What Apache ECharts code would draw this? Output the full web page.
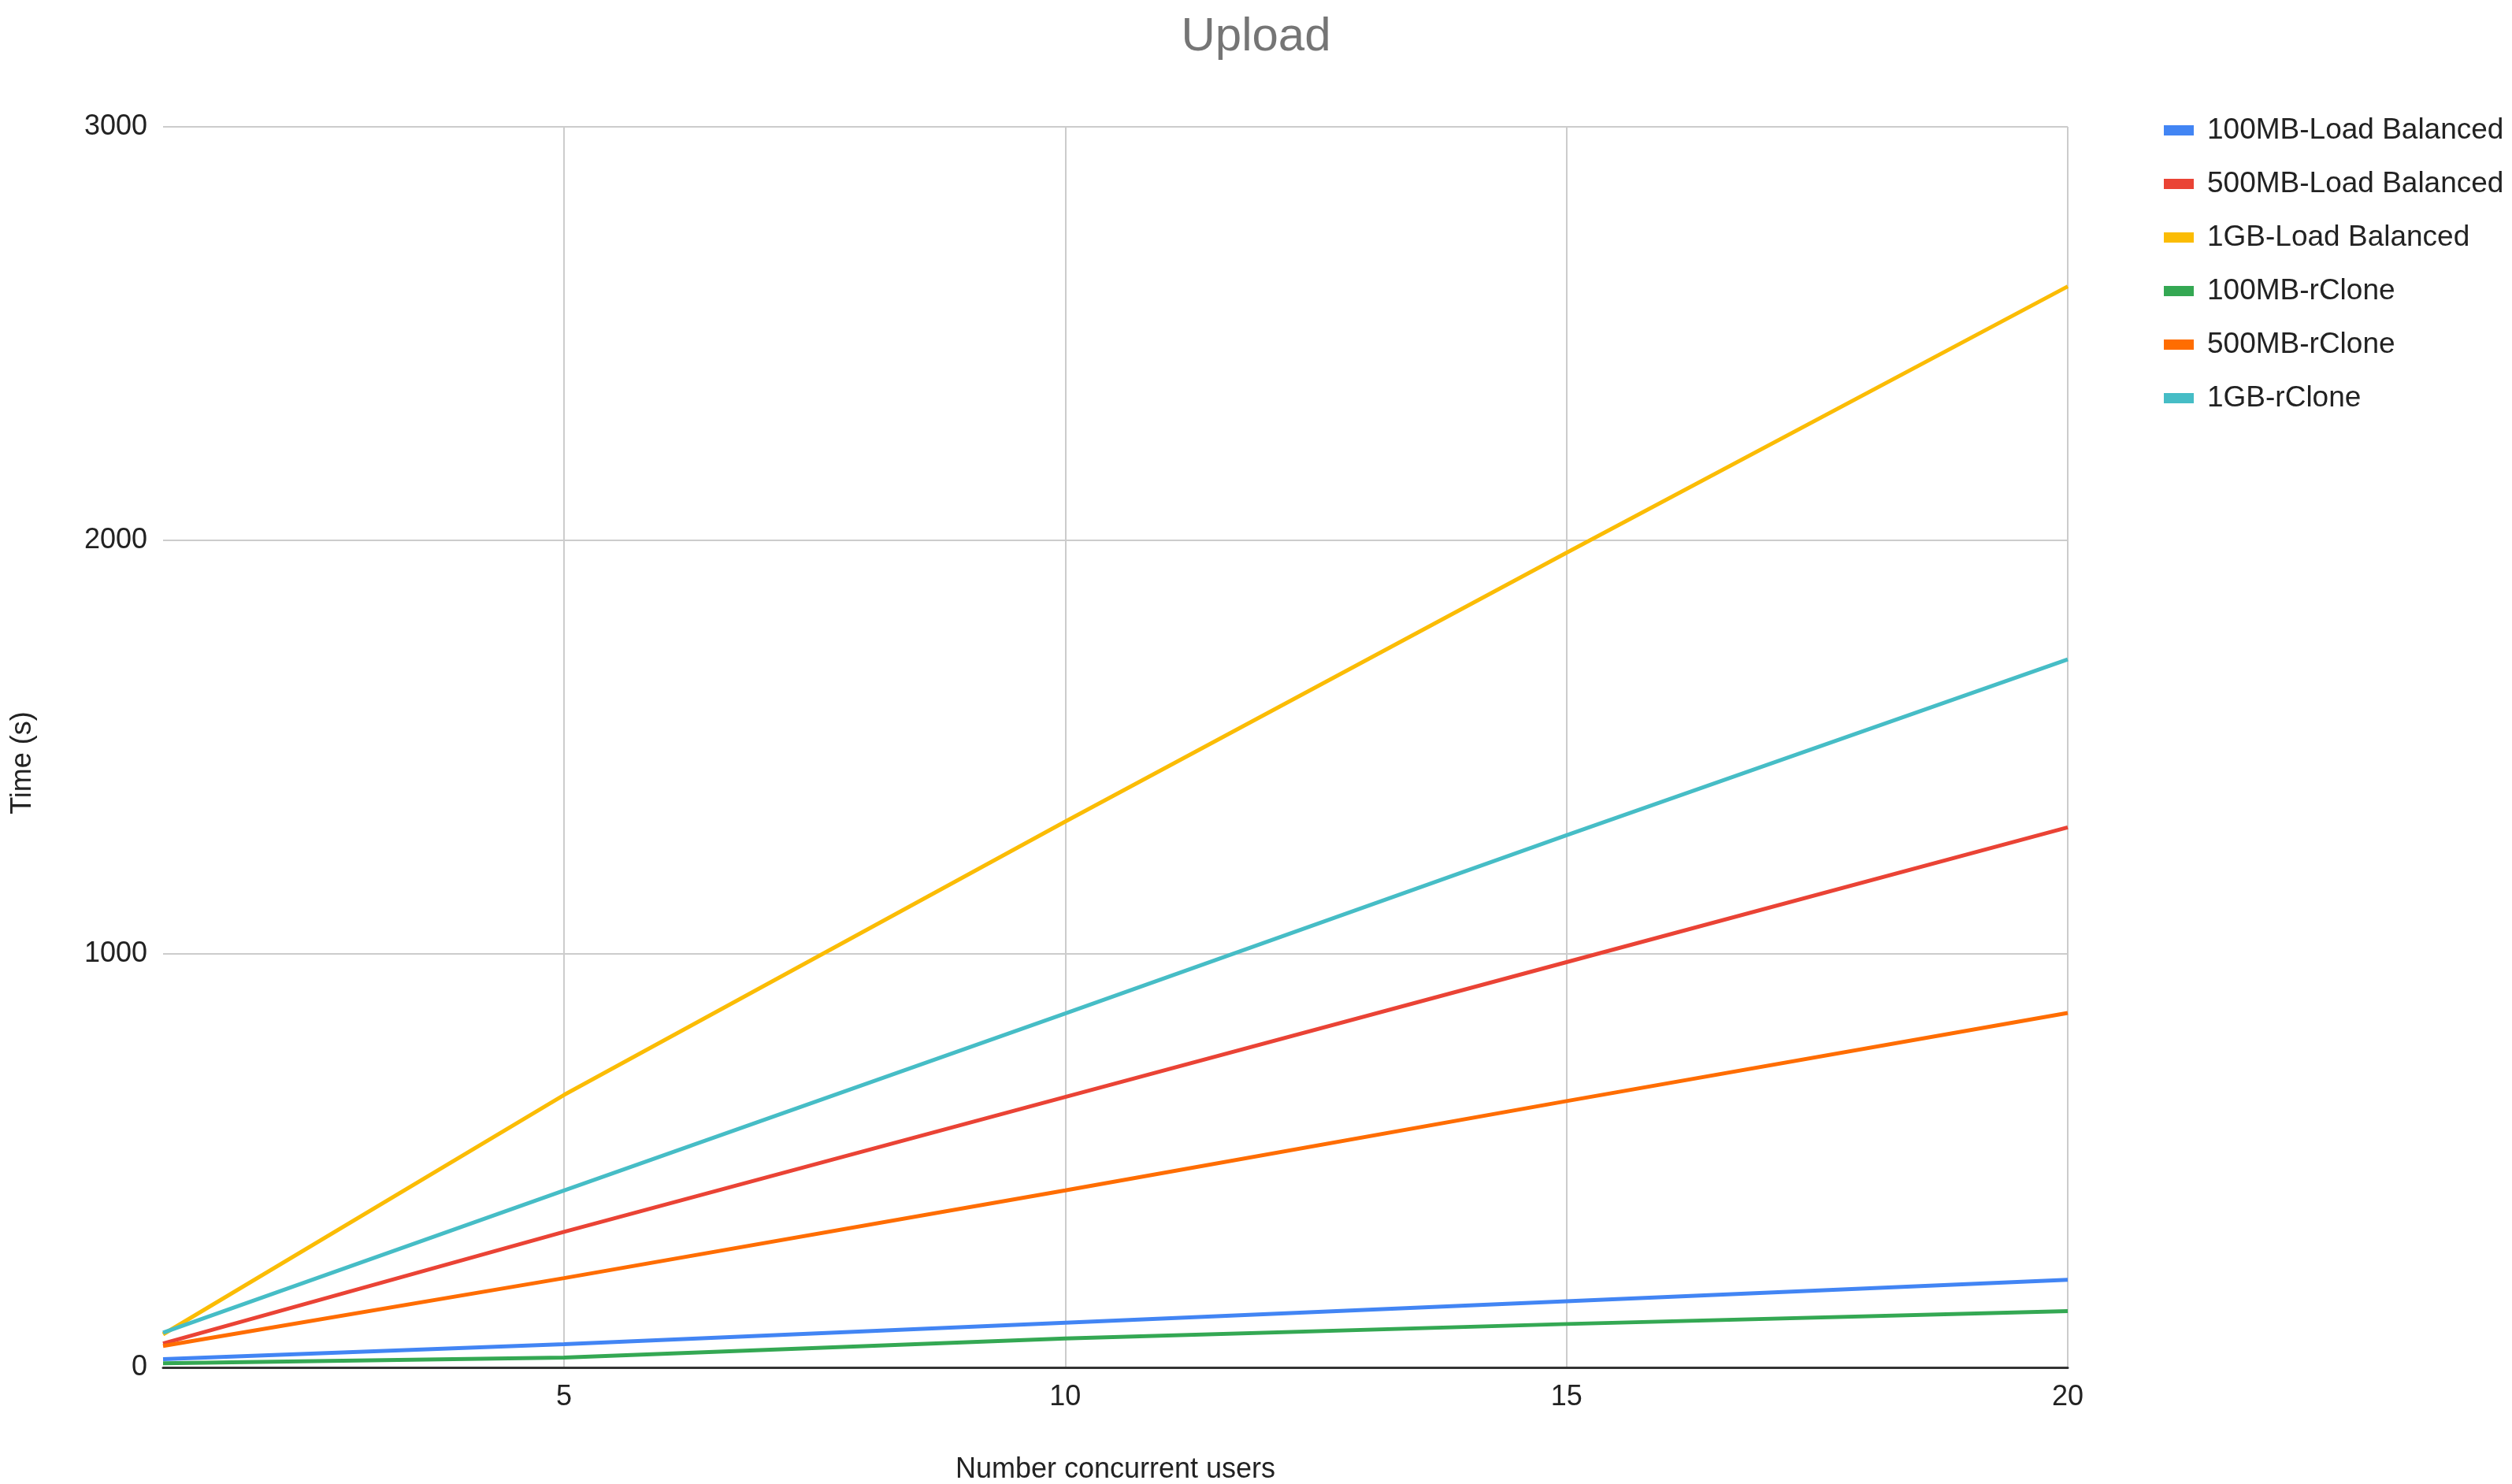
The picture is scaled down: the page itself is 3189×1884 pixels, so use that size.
<!DOCTYPE html>
<html>
<head>
<meta charset="utf-8">
<title>Upload</title>
<script src="https://cdn.jsdelivr.net/npm/echarts@6/dist/echarts.min.js"></script>
<style>
  html, body { margin: 0; padding: 0; background: #fff; }
  #chart { width: 3189px; height: 1884px; }
</style>
</head>
<body>
<div id="chart"></div>
<script>
// Upload times (s) by number of concurrent users
const users = [1, 5, 10, 15, 20];
const xTicks = [5, 10, 15, 20];

const seriesNames = [
    '100MB-Load Balanced',
    '500MB-Load Balanced',
    '1GB-Load Balanced',
    '100MB-rClone',
    '500MB-rClone',
    '1GB-rClone'
];

const lb100 = [20, 56, 108, 160, 212];
const lb500 = [58, 328, 654, 980, 1306];
const lb1g = [80, 659, 1320, 1970, 2614];
const rc100 = [10, 24, 70, 105, 136];
const rc500 = [52, 216, 428, 644, 857];
const rc1g = [84, 428, 856, 1287, 1712];

const colors = ['#4285F4', '#EA4335', '#FBBC04', '#34A853', '#FF6D01', '#46BDC6'];
const values = [lb100, lb500, lb1g, rc100, rc500, rc1g];

const font = '"Liberation Sans", Arial, sans-serif';

function toPoints(ys) {
    return users.map((x, i) => [x, ys[i]]);
}

const chart = echarts.init(document.getElementById('chart'));

chart.setOption({
    animation: false,
    backgroundColor: '#fff',
    title: {
        text: 'Upload',
        left: 'center',
        top: 12,
        textStyle: { fontFamily: font, fontSize: 60, fontWeight: 'normal', color: '#757575' }
    },
    legend: {
        orient: 'vertical',
        left: 2742,
        top: 142,
        icon: 'rect',
        itemWidth: 38,
        itemHeight: 13,
        itemGap: 31,
        textStyle: { fontFamily: font, fontSize: 37, color: '#222', padding: [0, 0, 0, 12] },
        data: seriesNames
    },
    grid: { left: 207, right: 564, top: 161, bottom: 148, outerBoundsMode: 'none' },
    xAxis: {
        type: 'value',
        min: 1,
        max: 20,
        name: 'Number concurrent users',
        nameLocation: 'middle',
        nameGap: 112,
        nameTextStyle: { fontFamily: font, fontSize: 36, color: '#222' },
        axisLine: { show: true, lineStyle: { color: '#333', width: 3 } },
        axisTick: { show: false, customValues: xTicks },
        axisLabel: { customValues: xTicks, fontFamily: font, fontSize: 36, color: '#222', margin: 20 },
        splitLine: { show: true, lineStyle: { color: '#cccccc', width: 2 } }
    },
    yAxis: {
        type: 'value',
        min: 0,
        max: 3000,
        interval: 1000,
        name: 'Time (s)',
        nameLocation: 'middle',
        nameGap: 160,
        nameTextStyle: { fontFamily: font, fontSize: 36, color: '#222', padding: [0, 40, 0, 0] },
        axisLine: { show: false },
        axisTick: { show: false },
        axisLabel: { fontFamily: font, fontSize: 36, color: '#222', margin: 20, formatter: v => String(v) },
        splitLine: { show: true, lineStyle: { color: '#cccccc', width: 2 } }
    },
    series: seriesNames.map((name, i) => ({
        name: name,
        type: 'line',
        data: toPoints(values[i]),
        showSymbol: false,
        color: colors[i],
        lineStyle: { width: 5, color: colors[i] }
    }))
});
</script>
</body>
</html>
